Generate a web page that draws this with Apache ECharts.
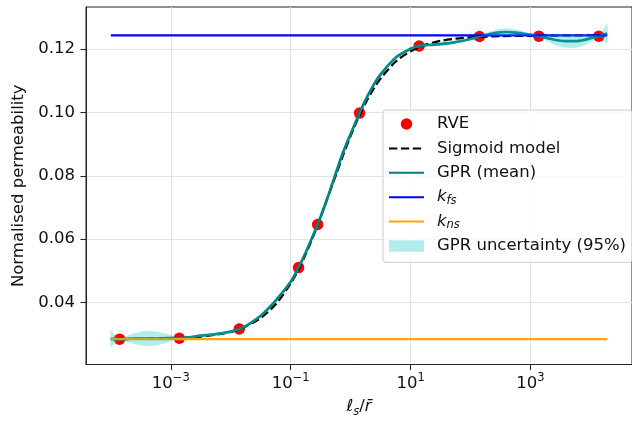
<!DOCTYPE html>
<html><head><meta charset="utf-8">
<script src="https://cdn.jsdelivr.net/npm/echarts@6/dist/echarts.min.js"></script>
<style>html,body{margin:0;padding:0;background:#fff}#c{width:632px;height:423px}</style>
</head><body><div id="c"></div>
<script>
// ---- data (x values stored as log10 exponents of l_s / r-bar) ----
const rveLog10X = [-3.854, -2.857, -1.857, -0.868, -0.550, 0.149, 1.143, 2.149, 3.140, 4.140];
const rveY      = [0.0284, 0.0287, 0.0316, 0.0510, 0.0646, 0.0998, 0.1210, 0.1240, 0.1241, 0.1241];

const sigLog10X = [-4.0,-3.5,-3.0,-2.75,-2.5,-2.25,-2.0,-1.75,-1.5,-1.25,-1.0,-0.875,-0.75,-0.625,-0.5,-0.375,-0.25,-0.125,0,0.125,0.25,0.375,0.5,0.75,1.0,1.25,1.5,1.75,2.0,2.5,3.0,3.5,4.0,4.28];
const sigY      = [0.0284,0.0285,0.0287,0.0289,0.0292,0.0298,0.0307,0.0324,0.0351,0.0394,0.0460,0.0502,0.0552,0.0608,0.0670,0.0735,0.0800,0.0865,0.0926,0.0981,0.1030,0.1072,0.1107,0.1160,0.1193,0.1214,0.1226,0.1233,0.1237,0.1241,0.1242,0.1243,0.1243,0.1243];

const gprLog10X = [-4.0,-3.95,-3.9,-3.85,-3.75,-3.6,-3.45,-3.35,-3.2,-3.05,-2.95,-2.86,-2.7,-2.5,-2.25,-2.0,-1.86,-1.75,-1.5,-1.25,-1.0,-0.87,-0.75,-0.625,-0.55,-0.45,-0.35,-0.25,-0.125,0.0,0.15,0.25,0.375,0.5,0.75,1.0,1.14,1.3,1.5,1.75,2.0,2.15,2.3,2.45,2.6,2.75,2.9,3.02,3.14,3.3,3.45,3.6,3.75,3.9,4.02,4.14,4.21,4.28];
const gprMean   = [0.0285,0.0285,0.0284,0.0284,0.0285,0.0286,0.0286,0.0286,0.0286,0.0287,0.0287,0.0287,0.0290,0.0295,0.0300,0.0308,0.0316,0.0325,0.0358,0.0406,0.0465,0.0510,0.0557,0.0612,0.0646,0.0696,0.0750,0.0806,0.0874,0.0932,0.0998,0.1040,0.1084,0.1120,0.1173,0.1201,0.1210,0.1213,0.1216,0.1222,0.1232,0.1240,0.1247,0.1252,0.1254,0.1252,0.1248,0.1245,0.1241,0.1234,0.1228,0.1225,0.1225,0.1229,0.1235,0.1241,0.1245,0.1249];
const gprHalf95 = [0.0028,0.0016,0.0007,0.0002,0.0009,0.0017,0.0023,0.0024,0.0021,0.0013,0.0006,0.0002,0.0003,0.0004,0.0004,0.0003,0.0002,0.0002,0.0002,0.0002,0.0002,0.0002,0.0002,0.0002,0.0002,0.0002,0.0002,0.0002,0.0002,0.0002,0.0002,0.0002,0.0002,0.0002,0.0002,0.0002,0.0002,0.0003,0.0004,0.0004,0.0003,0.0002,0.0007,0.0010,0.0011,0.0010,0.0007,0.0004,0.0002,0.0011,0.0018,0.0021,0.0021,0.0017,0.0010,0.0002,0.0014,0.0032];

const kLineLog10X = [-4.0, 4.28];
const kFs = 0.1243;
const kNs = 0.0284;

const xTickExps = [-3, -1, 1, 3];
const yTicks = [0.04, 0.06, 0.08, 0.10, 0.12];

// ---- build ----
const zip = (xs, ys) => xs.map((x, i) => [x, ys[i]]);

const FS = 16.5;
const FONT = 'DejaVu Sans';
const TXT = '#111';
const BAND = 'rgba(0,191,191,0.3)';

const chart = echarts.init(document.getElementById('c'), null, {renderer: 'canvas'});
chart.setOption({
  animation: false,
  textStyle: {fontFamily: FONT},
  grid: {left: 86, top: 7, width: 552, height: 358.5, show: true, borderColor: '#222', borderWidth: 1, backgroundColor: 'transparent'},
  xAxis: {
    type: 'value', min: -4.414, max: 4.694,
    axisLine: {show: true, onZero: false, lineStyle: {color: '#222', width: 1}},
    axisTick: {show: true, length: 5.5, customValues: xTickExps, lineStyle: {color: '#222'}},
    splitLine: {show: true, lineStyle: {color: '#e3e3e3', width: 1}},
    axisLabel: {
      customValues: xTickExps, margin: 8, color: TXT, fontFamily: FONT,
      formatter: v => '{b|10}{p|' + (v < 0 ? '\u2212' : '') + Math.abs(Math.round(v)) + '}',
      rich: {
        b: {fontSize: FS, fontFamily: FONT, color: TXT, lineHeight: 22},
        p: {fontSize: 11.5, fontFamily: FONT, color: TXT, lineHeight: 12, verticalAlign: 'top'}
      }
    },
    name: '{i|\u2113}{s|s}{n|/}{i|r\u0304}', nameLocation: 'middle', nameGap: 31.5,
    nameTextStyle: {
      color: TXT, fontFamily: FONT,
      rich: {
        i: {fontSize: FS, fontStyle: 'italic', fontFamily: FONT, color: TXT, lineHeight: 22},
        n: {fontSize: FS, fontFamily: FONT, color: TXT, lineHeight: 22},
        s: {fontSize: 11.5, fontStyle: 'italic', fontFamily: FONT, color: TXT, lineHeight: 10, verticalAlign: 'bottom'}
      }
    }
  },
  yAxis: {
    type: 'value', min: 0.0204, max: 0.1333,
    axisLine: {show: true, onZero: false, lineStyle: {color: '#222', width: 1}},
    axisTick: {show: true, length: 5.5, customValues: yTicks, lineStyle: {color: '#222'}},
    splitLine: {show: true, lineStyle: {color: '#e3e3e3', width: 1}},
    axisLabel: {customValues: yTicks, margin: 11, color: TXT, fontSize: FS, fontFamily: FONT, formatter: v => v.toFixed(2)},
    name: 'Normalised permeability', nameLocation: 'middle', nameGap: 56,
    nameTextStyle: {color: TXT, fontSize: FS, fontFamily: FONT}
  },
  legend: {
    orient: 'vertical', left: 383, top: 110, z: 20,
    padding: [4.3, 6, 6.6, 5],
    itemGap: 5, itemWidth: 35, itemHeight: 11.5,
    backgroundColor: 'rgba(255,255,255,0.8)', borderColor: '#cccccc', borderWidth: 1, borderRadius: 3,
    data: [
      {name: 'RVE', itemStyle: {opacity: 1}},
      {name: 'Sigmoid model', itemStyle: {opacity: 0}},
      {name: 'GPR (mean)', itemStyle: {opacity: 0}},
      {name: 'k_fs', itemStyle: {opacity: 0}},
      {name: 'k_ns', itemStyle: {opacity: 0}},
      {name: 'GPR uncertainty (95%)', icon: 'rect', itemStyle: {color: BAND, borderWidth: 0}}
    ],
    formatter: name => {
      if (name === 'k_fs') return '{k|k}{s|fs}';
      if (name === 'k_ns') return '{k|k}{s|ns}';
      return name;
    },
    textStyle: {
      fontSize: FS, fontFamily: FONT, color: TXT, lineHeight: 19.4, padding: [0, 0, 0, 8],
      rich: {
        k: {fontSize: FS, fontStyle: 'italic', fontFamily: FONT, color: TXT, lineHeight: 19.4},
        s: {fontSize: 11.5, fontStyle: 'italic', fontFamily: FONT, color: TXT, lineHeight: 10, verticalAlign: 'bottom'}
      }
    }
  },
  series: [
    {name: 'RVE', type: 'scatter', data: zip(rveLog10X, rveY), symbol: 'circle', symbolSize: 11.5,
     color: '#ff0000', itemStyle: {color: '#ff0000', opacity: 1}, z: 2},
    {name: 'Sigmoid model', type: 'line', data: zip(sigLog10X, sigY), symbol: 'none', smooth: 0.3,
     color: '#000000', lineStyle: {color: '#000000', width: 2.25, type: [8.3, 3.6]}, z: 3},
    {name: 'GPR (mean)', type: 'line', data: zip(gprLog10X, gprMean), symbol: 'none', smooth: 0.3,
     color: '#008080', lineStyle: {color: '#008080', width: 2.7}, z: 4},
    {name: 'k_fs', type: 'line', data: kLineLog10X.map(x => [x, kFs]), symbol: 'none',
     color: '#0000ff', lineStyle: {color: '#0000ff', width: 2.25}, z: 5},
    {name: 'k_ns', type: 'line', data: kLineLog10X.map(x => [x, kNs]), symbol: 'none',
     color: '#ffa500', lineStyle: {color: '#ffa500', width: 2.25}, z: 5},
    {name: 'GPR uncertainty (95%)', type: 'custom', z: 6, clip: true,
     color: BAND, itemStyle: {color: BAND},
     data: [[gprLog10X[0], gprMean[0]]],
     renderItem: (params, api) => {
       const up = gprLog10X.map((x, i) => api.coord([x, gprMean[i] + gprHalf95[i]]));
       const lo = gprLog10X.map((x, i) => api.coord([x, gprMean[i] - gprHalf95[i]])).reverse();
       return {type: 'polygon', shape: {points: up.concat(lo), smooth: 0.25}, style: {fill: BAND, stroke: null}};
     }}
  ]
});
</script>
</body></html>
